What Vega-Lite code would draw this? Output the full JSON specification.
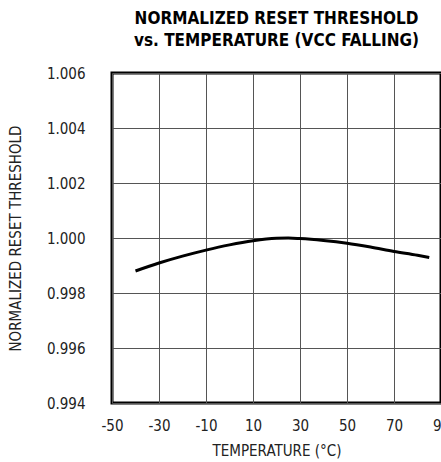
{
  "$schema": "https://vega.github.io/schema/vega-lite/v6.json",
  "autosize": {"type": "none"},
  "padding": {"left": 112, "top": 73, "right": 0, "bottom": 59},
  "width": 329,
  "height": 330,
  "background": "white",
  "title": {
    "text": ["NORMALIZED RESET THRESHOLD", "vs. TEMPERATURE (VCC FALLING)"],
    "font": "DejaVu Sans Condensed, Roboto, sans-serif",
    "fontSize": 17,
    "fontWeight": "bold",
    "color": "black",
    "anchor": "middle",
    "frame": "group",
    "lineHeight": 22,
    "offset": 16
  },
  "config": {
    "view": {"stroke": "black", "strokeWidth": 3},
    "axis": {
      "labelFont": "DejaVu Sans Condensed, Roboto, sans-serif",
      "titleFont": "DejaVu Sans Condensed, Roboto, sans-serif",
      "labelFontSize": 15,
      "titleFontSize": 15,
      "titleFontWeight": "normal",
      "labelColor": "#222",
      "titleColor": "#222",
      "domain": false,
      "ticks": false,
      "gridColor": "#555",
      "gridWidth": 1,
      "gridOpacity": 1
    }
  },
  "data": {
    "values": [
      {"t": -40, "v": 0.99880},
      {"t": -30, "v": 0.99909},
      {"t": -20, "v": 0.99934},
      {"t": -10, "v": 0.99956},
      {"t": 0, "v": 0.99975},
      {"t": 10, "v": 0.99990},
      {"t": 20, "v": 0.99999},
      {"t": 25, "v": 1.00000},
      {"t": 30, "v": 0.99998},
      {"t": 40, "v": 0.99991},
      {"t": 50, "v": 0.99981},
      {"t": 60, "v": 0.99967},
      {"t": 70, "v": 0.99951},
      {"t": 80, "v": 0.99937},
      {"t": 85, "v": 0.99929}
    ]
  },
  "mark": {"type": "line", "color": "black", "strokeWidth": 3, "interpolate": "monotone"},
  "encoding": {
    "x": {
      "field": "t",
      "type": "quantitative",
      "scale": {"domain": [-50, 90], "nice": false, "zero": false},
      "axis": {"values": [-50, -30, -10, 10, 30, 50, 70, 90], "labelExpr": "replace(datum.label, '−', '-')", "title": "TEMPERATURE (°C)", "labelPadding": 15, "titlePadding": 10, "labelFlush": false}
    },
    "y": {
      "field": "v",
      "type": "quantitative",
      "scale": {"domain": [0.994, 1.006], "nice": false, "zero": false},
      "axis": {"values": [0.994, 0.996, 0.998, 1.0, 1.002, 1.004, 1.006], "format": ".3f", "title": "NORMALIZED RESET THRESHOLD", "labelPadding": 27, "titlePadding": 23}
    }
  }
}
